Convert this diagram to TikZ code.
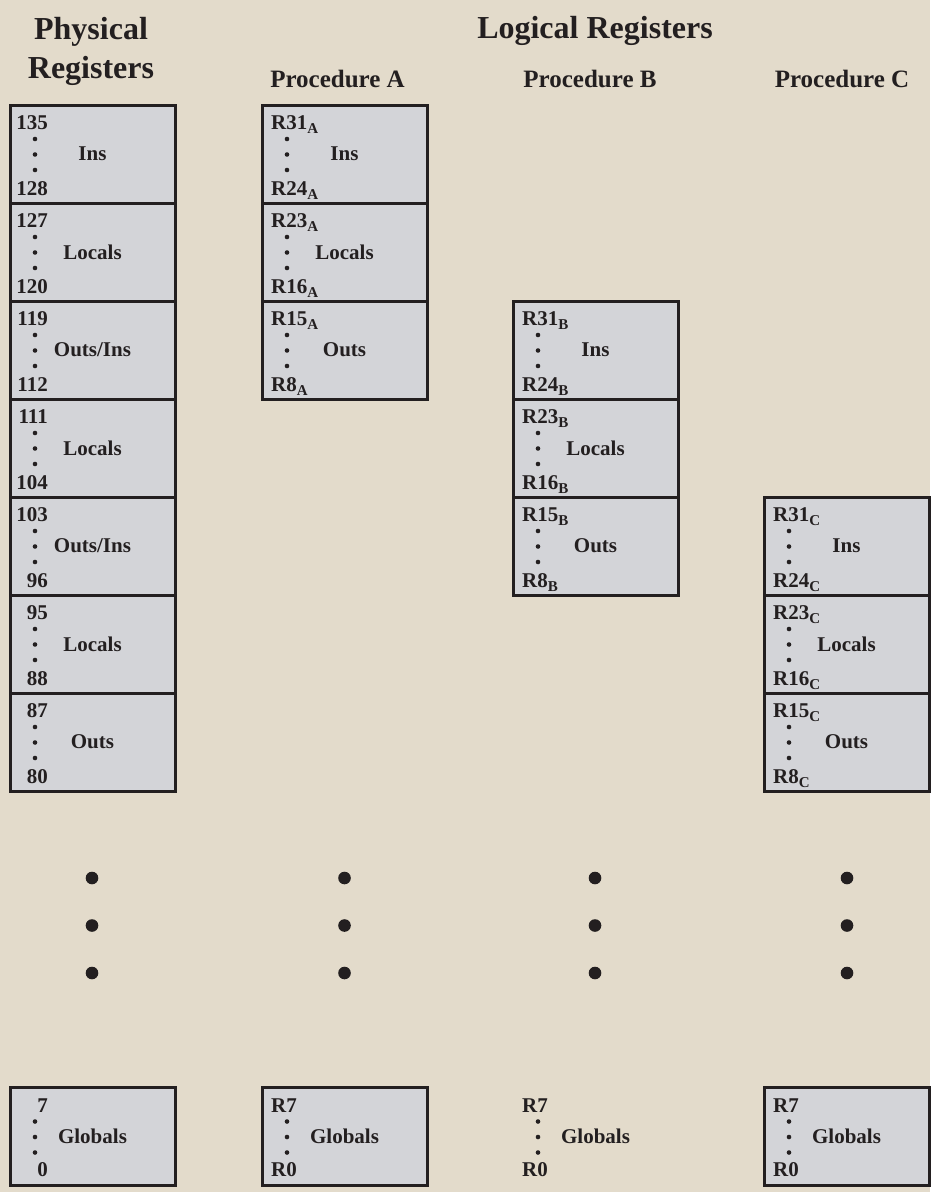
\documentclass[tikz,border=0pt]{standalone}
\usepackage{fontspec}
\setmainfont{Liberation Serif}
\usepackage{tikz}
\usetikzlibrary{positioning}
\definecolor{paper}{RGB}{227,219,203}
\definecolor{regfill}{RGB}{211,212,216}
\definecolor{regline}{RGB}{35,31,32}
\newcommand{\rsub}[1]{\raisebox{-4pt}{\fontsize{15}{15}\selectfont #1}}

\begin{document}
\begin{tikzpicture}[
    x=1pt, y=-1pt, text=regline,
    seg/.style={draw=regline, fill=regfill, line width=3pt, minimum width=165pt, minimum height=98pt, inner sep=0pt, outer sep=0pt, font=\fontsize{21}{21}\selectfont\bfseries},
    bare/.style={seg, draw=none, fill=none},
    num/.style={inner sep=0pt, font=\fontsize{21}{21}\selectfont\bfseries},
    physnum/.style={num, anchor=base east, xshift=38pt},
    rnum/.style={num, anchor=base west, xshift=9pt},
    head/.style={inner sep=0pt, font=\fontsize{32}{39}\selectfont\bfseries},
    prochead/.style={inner sep=0pt, anchor=base, font=\fontsize{25}{25}\selectfont\bfseries},
    dot/.style={fill=regline}
]
\useasboundingbox (0,0) rectangle (930,1192);
\fill[paper] (0,0) rectangle (930,1192);
% Headings
\node[head, align=center, anchor=base] (physhead) at (91,78) {Physical\\Registers};
\node[head, anchor=base] (loghead) at (595,38) {Logical Registers};
\node[prochead] (headA) at (337.5,87) {Procedure A};
\node[prochead] (headB) at (590,87) {Procedure B};
\node[prochead] (headC) at (842,87) {Procedure C};
% Physical registers
\foreach \regtop/\regbot/\what [count=\i] in {135/128/Ins, 127/120/Locals, 119/112/Outs{/}Ins, 111/104/Locals, 103/96/Outs{/}Ins, 95/88/Locals, 87/80/Outs}{
  \node[seg] (phys\i) at (92.5,{105+98*\i-49}) {\what};
  \node[physnum, yshift=-24pt] at (phys\i.north west) {\regtop};
  \node[physnum, yshift=8pt] at (phys\i.south west) {\regbot};
  \foreach \dy in {34,49.5,65} \fill[dot] (phys\i.north west) ++(25pt,-\dy pt) circle (2.3pt);
}
% Logical registers of each procedure
\foreach \p/\cx/\row in {A/344.5/0, B/595.5/2, C/846.5/4}
  \foreach \regtop/\regbot/\what [count=\i] in {31/24/Ins, 23/16/Locals, 15/8/Outs}{
    \node[seg] (proc\p\i) at (\cx,{105+98*(\row+\i)-49}) {\what};
    \node[rnum, yshift=-24pt] at (proc\p\i.north west) {R\regtop\rsub{\p}};
    \node[rnum, yshift=8pt] at (proc\p\i.south west) {R\regbot\rsub{\p}};
    \foreach \dy in {34,49.5,65} \fill[dot] (proc\p\i.north west) ++(25pt,-\dy pt) circle (2.3pt);
  }
% Continuation dots
\foreach \cx in {92,344.5,595,847}
  \foreach \cy in {878,925.5,973} \fill[dot] (\cx,\cy) circle (6.3);
% Globals
\node[seg] (globP) at (92.5,1136.5) {Globals};
\node[physnum, yshift=-25pt] at (globP.north west) {7};
\node[physnum, yshift=9pt] at (globP.south west) {0};
\foreach \dy in {34,49.5,65} \fill[dot] (globP.north west) ++(25pt,-\dy pt) circle (2.3pt);
\foreach \p/\cx/\sty in {A/344.5/seg, B/595.5/bare, C/846.5/seg}{
  \node[\sty] (glob\p) at (\cx,1136.5) {Globals};
  \node[rnum, yshift=-25pt] at (glob\p.north west) {R7};
  \node[rnum, yshift=9pt] at (glob\p.south west) {R0};
  \foreach \dy in {34,49.5,65} \fill[dot] (glob\p.north west) ++(25pt,-\dy pt) circle (2.3pt);
}
\end{tikzpicture}
\end{document}
